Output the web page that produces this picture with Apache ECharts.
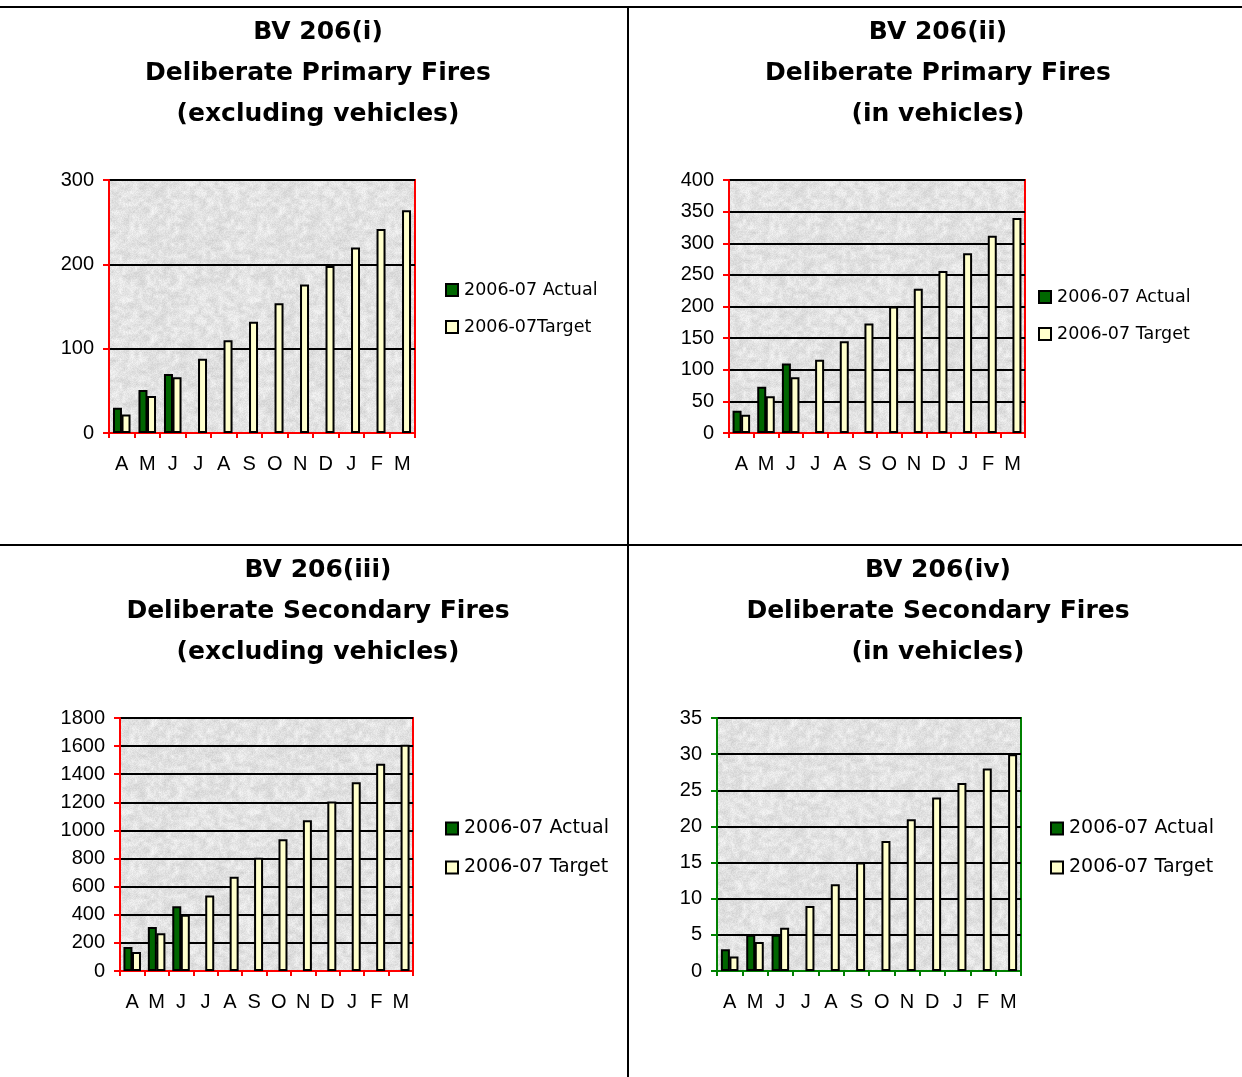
<!DOCTYPE html>
<html>
<head>
<meta charset="utf-8">
<script src="https://cdn.jsdelivr.net/npm/echarts@6/dist/echarts.min.js"></script>
<style>
  html, body { margin: 0; padding: 0; background: #fff; }
  #chart { width: 1242px; height: 1077px; }
</style>
</head>
<body>
<div id="chart"></div>
<script>
// Month initials, April to March
const months = ['A', 'M', 'J', 'J', 'A', 'S', 'O', 'N', 'D', 'J', 'F', 'M'];

// BV 206(i) Deliberate primary fires (excluding vehicles)
const primaryExclActual = [30, 51, 70, null, null, null, null, null, null, null, null, null];
const primaryExclTarget = [22, 44, 66, 88, 110, 132, 154, 176, 198, 220, 242, 264];

// BV 206(ii) Deliberate primary fires (in vehicles)
const primaryVehActual = [35, 73, 110, null, null, null, null, null, null, null, null, null];
const primaryVehTarget = [29, 58, 88, 116, 145, 173, 200, 228, 256, 284, 312, 340];

// BV 206(iii) Deliberate secondary fires (excluding vehicles)
const secondaryExclActual = [171, 313, 461, null, null, null, null, null, null, null, null, null];
const secondaryExclTarget = [135, 268, 401, 537, 670, 805, 938, 1073, 1206, 1342, 1475, 1610];

// BV 206(iv) Deliberate secondary fires (in vehicles)
const secondaryVehActual = [3, 5, 5, null, null, null, null, null, null, null, null, null];
const secondaryVehTarget = [2, 4, 6, 9, 12, 15, 18, 21, 24, 26, 28, 30];

const titles = [
  ['BV 206(i)', 'Deliberate Primary Fires', '(excluding vehicles)'],
  ['BV 206(ii)', 'Deliberate Primary Fires', '(in vehicles)'],
  ['BV 206(iii)', 'Deliberate Secondary Fires', '(excluding vehicles)'],
  ['BV 206(iv)', 'Deliberate Secondary Fires', '(in vehicles)']
];
const actualName = '2006-07 Actual';
const targetNames = ['2006-07Target', '2006-07 Target', '2006-07 Target', '2006-07 Target'];

const panels = [
  { actual: primaryExclActual, target: primaryExclTarget, max: 300, step: 100,
    grid: { left: 109, top: 180, width: 306, height: 253 }, frame: '#ff0000',
    titleX: 318, titleY: 32, legendX: 445, legendY: 281, legendGap: 19, legendFont: 17.5 },
  { actual: primaryVehActual, target: primaryVehTarget, max: 400, step: 50,
    grid: { left: 729, top: 180, width: 296, height: 253 }, frame: '#ff0000',
    titleX: 938, titleY: 32, legendX: 1038, legendY: 288, legendGap: 19, legendFont: 17.5 },
  { actual: secondaryExclActual, target: secondaryExclTarget, max: 1800, step: 200,
    grid: { left: 120, top: 718, width: 293, height: 253 }, frame: '#ff0000',
    titleX: 318, titleY: 570, legendX: 445, legendY: 819, legendGap: 20, legendFont: 19 },
  { actual: secondaryVehActual, target: secondaryVehTarget, max: 35, step: 5,
    grid: { left: 717, top: 718, width: 304, height: 253 }, frame: '#008000',
    titleX: 938, titleY: 570, legendX: 1050, legendY: 819, legendGap: 20, legendFont: 19 }
];

// Speckled light-grey fill for the plot areas, built from a fixed hash so it is the same on every load
function speckleTexture(size) {
  const c = document.createElement('canvas');
  c.width = c.height = size;
  const ctx = c.getContext('2d');
  const img = ctx.createImageData(size, size);
  const hash = (x, y) => {
    let h = (x * 374761393 + y * 668265263) | 0;
    h = (h ^ (h >>> 13)) * 1274126177 | 0;
    return ((h ^ (h >>> 16)) >>> 0) / 4294967295;
  };
  const cell = 4;
  const n = size / cell;
  const smooth = (x, y) => {
    const gx = x / cell, gy = y / cell;
    const x0 = Math.floor(gx), y0 = Math.floor(gy);
    const fx = gx - x0, fy = gy - y0;
    const a = hash(x0 % n, y0 % n), b = hash((x0 + 1) % n, y0 % n);
    const c2 = hash(x0 % n, (y0 + 1) % n), d = hash((x0 + 1) % n, (y0 + 1) % n);
    return (a * (1 - fx) + b * fx) * (1 - fy) + (c2 * (1 - fx) + d * fx) * fy;
  };
  for (let y = 0; y < size; y++) {
    for (let x = 0; x < size; x++) {
      const v = 0.6 * smooth(x, y) + 0.4 * hash(x + 1000, y + 2000);
      const g = Math.round(206 + v * 42);
      const i = (y * size + x) * 4;
      img.data[i] = img.data[i + 1] = img.data[i + 2] = g;
      img.data[i + 3] = 255;
    }
  }
  ctx.putImageData(img, 0, 0);
  return c;
}
const plotFill = { image: speckleTexture(128), repeat: 'repeat' };

const axisFont = { fontFamily: 'Liberation Sans', fontSize: 20, color: '#000' };
const labelFont = 'DejaVu Sans';

const titleTexts = [];
panels.forEach((p, i) => {
  titles[i].forEach((line, k) => {
    titleTexts.push({
      type: 'text',
      x: p.titleX,
      y: p.titleY + k * 41,
      style: {
        text: line,
        fill: '#000',
        font: 'bold 25px "DejaVu Sans"',
        textAlign: 'center',
        textVerticalAlign: 'middle'
      }
    });
  });
});

const option = {
  animation: false,
  backgroundColor: '#ffffff',
  legend: panels.map((p, i) => ({
    orient: 'vertical',
    left: p.legendX,
    top: p.legendY,
    padding: 0,
    itemWidth: 12,
    itemHeight: 12,
    itemGap: p.legendGap,
    icon: 'rect',
    data: [actualName, targetNames[i]],
    textStyle: { fontFamily: labelFont, fontSize: p.legendFont, color: '#000', padding: [0, 0, 0, 1] }
  })),
  grid: panels.map(p => Object.assign({
    show: true,
    backgroundColor: plotFill,
    borderColor: p.frame,
    borderWidth: 2
  }, p.grid)),
  xAxis: panels.map((p, i) => ({
    type: 'category',
    gridIndex: i,
    data: months,
    boundaryGap: true,
    axisLine: { show: true, lineStyle: { color: p.frame, width: 2 } },
    axisTick: { show: true, length: 5, alignWithLabel: false, lineStyle: { color: p.frame, width: 2 } },
    axisLabel: Object.assign({ margin: 21, interval: 0 }, axisFont),
    splitLine: { show: false }
  })),
  yAxis: panels.map((p, i) => ({
    type: 'value',
    gridIndex: i,
    min: 0,
    max: p.max,
    interval: p.step,
    axisLine: { show: true, lineStyle: { color: p.frame, width: 2 } },
    axisTick: { show: true, length: 6, lineStyle: { color: p.frame, width: 2 } },
    axisLabel: Object.assign({ margin: 15, formatter: v => String(v) }, axisFont),
    splitLine: { show: true, lineStyle: { color: '#000', width: 2 } }
  })),
  series: panels.flatMap((p, i) => [
    {
      name: actualName,
      type: 'bar',
      xAxisIndex: i,
      yAxisIndex: i,
      data: p.actual,
      barWidth: 9,
      barGap: '-5%',
      itemStyle: { color: '#006600', borderColor: '#000', borderWidth: 2 }
    },
    {
      name: targetNames[i],
      type: 'bar',
      xAxisIndex: i,
      yAxisIndex: i,
      data: p.target,
      barWidth: 9,
      barGap: '-5%',
      itemStyle: { color: '#ffffcc', borderColor: '#000', borderWidth: 2 }
    }
  ]),
  graphic: [
    // table rules separating the four panels
    { type: 'line', shape: { x1: 0, y1: 7, x2: 1242, y2: 7 }, style: { stroke: '#000', lineWidth: 2 } },
    { type: 'line', shape: { x1: 0, y1: 545, x2: 1242, y2: 545 }, style: { stroke: '#000', lineWidth: 2 } },
    { type: 'line', shape: { x1: 628, y1: 7, x2: 628, y2: 1077 }, style: { stroke: '#000', lineWidth: 2 } }
  ].concat(titleTexts)
};

const chart = echarts.init(document.getElementById('chart'), null, { renderer: 'canvas' });
chart.setOption(option);
</script>
</body>
</html>
